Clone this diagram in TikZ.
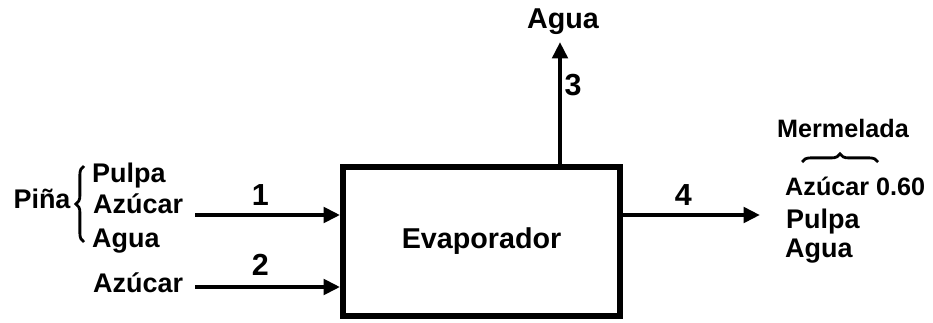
\documentclass[tikz,border=0pt]{standalone}
\usepackage{fontspec}
\setmainfont{Liberation Sans}
\usetikzlibrary{arrows.meta}
\usetikzlibrary{decorations.pathreplacing}

\begin{document}
\begin{tikzpicture}[x=0.03cm,y=0.03cm,
  every node/.style={font=\bfseries\fontsize{23}{27}\selectfont,inner sep=0pt},
  small/.style={font=\bfseries\fontsize{21.5}{26}\selectfont},
  big/.style={font=\bfseries\fontsize{24.5}{29}\selectfont},
  num/.style={font=\bfseries\fontsize{26}{30}\selectfont},
  flow/.style={line width=4pt,-{Triangle[length=14pt,width=13pt]}},
  curly/.style={line width=2.4pt,decorate,decoration={brace,amplitude=7pt}}]
\useasboundingbox (0,0) rectangle (933,322);
\node[draw,line width=5pt,minimum width=8.31cm,minimum height=4.47cm,big] (evap) at (481.5,80.5) {Evaporador};
% entradas
\node[anchor=base] (pina) at (42,114) {Piña};
\draw[curly] (84,80) -- (84,156);
\node[anchor=base west] (pulpa1) at (92,140) {Pulpa};
\node[anchor=base west] (azucar1) at (93,109) {Azúcar};
\node[anchor=base west] (agua1) at (92,75) {Agua};
\coordinate (s1) at (195,107);
\draw[flow] (s1) -- node[pos=0.45,above=6pt,num] {1} (s1 -| evap.west);
\node[anchor=base west] (azucar2) at (93,30) {Azúcar};
\coordinate (s2) at (195,35);
\draw[flow] (s2) -- node[pos=0.45,above=8pt,num] {2} (s2 -| evap.west);
% vapor
\node[anchor=base,big] (agua3) at (563,294) {Agua};
\coordinate (t3) at (560,280);
\draw[flow] (evap.north -| t3) -- node[pos=0.65,right=2pt,num] {3} (t3);
% producto
\coordinate (o4) at (760,107);
\draw[flow] (evap.east |- o4) -- node[pos=0.44,above=6pt,num] {4} (o4);
\node[anchor=base,small] (merm) at (843,185) {Mermelada};
\draw[curly] (802,160) -- (878,160);
\node[anchor=base west,small] (azucar4) at (785,127) {Azúcar 0.60};
\node[anchor=base west] (pulpa4) at (786,94) {Pulpa};
\node[anchor=base west] (agua4) at (785,65) {Agua};
\end{tikzpicture}
\end{document}
